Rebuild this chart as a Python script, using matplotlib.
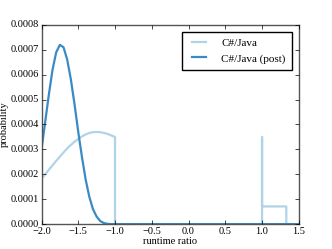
#runtime ratio density plot
import numpy as np
import matplotlib.pyplot as plt

#values
x_pre=[-2.0,-1.95,-1.9,-1.85,-1.8,-1.75,-1.7,-1.65,-1.6,-1.55,-1.5,-1.45,-1.4,-1.35,-1.3,-1.25,-1.2,-1.15,-1.1,-1.05,-1.0,-1.0,1.0,1.0,1.0,1.33,1.33]
y_pre=[0.000182,0.0002,0.000218,0.000236,0.000254,0.000271,0.000288,0.000304,0.000318,0.000331,0.000342,0.000352,0.00036,0.000366,0.000369,0.00037,0.000369,0.000366,0.000362,0.000356,0.00035,0.0,0.0,0.00035,0.000071,0.000071,0.0]

x_post=[-2.0,-2.0,-1.95,-1.9,-1.85,-1.8,-1.75,-1.7,-1.65,-1.6,-1.55,-1.5,-1.45,-1.4,-1.35,-1.3,-1.25,-1.2,-1.15,-1.1,-1.05,1.5]
y_post=[0.0,0.0003,0.00041,0.00052,0.00062,0.00069,0.00072,0.00071,0.00066,0.00058,0.00048,0.00037,0.00027,0.00018,0.00011,0.00006,0.00003,0.000012,0.000004,0.000001,0.0,0.0]

labels=['C#/Java','C#/Java (post)']

plt.style.use('classic')
plt.rcParams['font.family']=['Liberation Serif','DejaVu Serif']
plt.rcParams['font.size']=7.5

fig=plt.figure(figsize=(3.32,2.49),dpi=100,facecolor='white')
ax=fig.add_subplot(111)
ax.plot(x_pre,y_pre,color='#afd4e8',lw=1.6,label=labels[0])
ax.plot(x_post,y_post,color='#3a8ac6',lw=1.6,label=labels[1])
ax.set_xlim(-2.0,1.5)
ax.set_ylim(0,0.0008)
ax.set_xticks(np.arange(-2.0,1.51,0.5))
ax.set_yticks(np.arange(0,0.00081,0.0001))
ax.set_yticklabels(['%.4f'%v for v in np.arange(0,0.00081,0.0001)])
ax.set_xlabel('runtime ratio',fontsize=7.5,labelpad=1)
ax.set_ylabel('probability',fontsize=7.5,labelpad=1)
for s in ax.spines.values():
    s.set_color('#555555')
ax.tick_params(length=3,pad=2,colors='black')
ax.legend(loc='upper right',fontsize=8,frameon=True,fancybox=False,handlelength=1.8,
          handletextpad=1.1,borderpad=0.6,labelspacing=0.5,borderaxespad=0.6)
fig.subplots_adjust(left=0.125,right=0.9,bottom=0.1,top=0.9)
fig.savefig('out.png',dpi=100,facecolor='white')
